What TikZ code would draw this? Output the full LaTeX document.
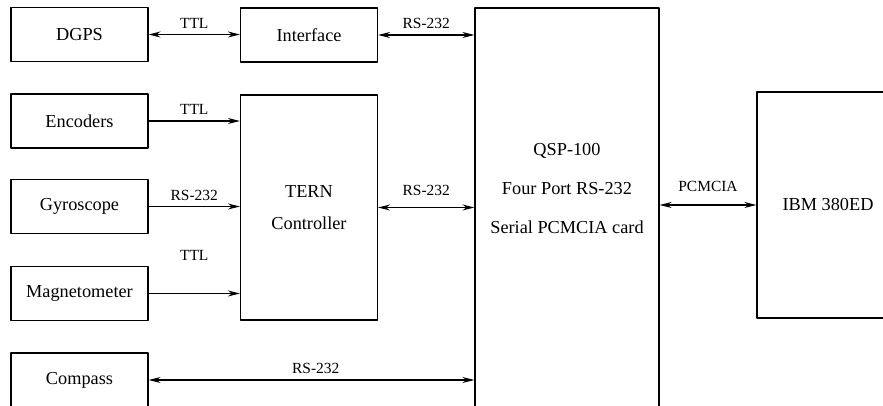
\documentclass[tikz,border=0pt]{standalone}
\usepackage{fontspec}
\setmainfont{Liberation Serif}
\usetikzlibrary{arrows.meta}
\def\pxl{0.025cm}
\tikzset{
  blk/.style={draw, line width=0.8pt, inner sep=0pt, align=center, minimum width=137*\pxl, minimum height=54*\pxl, font=\fontsize{13}{15}\selectfont},
  lnk/.style={line width=0.8pt, {Stealth[length=3mm,width=1.5mm]}-{Stealth[length=3mm,width=1.5mm]}},
  one/.style={line width=0.8pt, -{Stealth[length=3mm,width=1.5mm]}},
  tag/.style={font=\fontsize{11}{13}\selectfont, inner sep=2pt}
}
\begin{document}
\begin{tikzpicture}[x=\pxl, y=-\pxl, line join=round]
                \useasboundingbox (0,0) rectangle (883,406);
                \clip (0,0) rectangle (883,406);
                % sensors on the left
                \foreach \nm/\yy/\txt in {dgps/34.5/DGPS, enc/121/Encoders, gyro/206.5/Gyroscope, mag/293.5/Magnetometer, comp/380/Compass}
                    \node[blk] (\nm) at (79.5,\yy) {\txt};
                \node[blk] (iface) at (309,35) {Interface};
                \node[blk, minimum height=225*\pxl, font=\fontsize{13}{23}\selectfont] (tern) at (309,207.5) {TERN\\Controller};
                % card and laptop run off the page
                \node[blk, minimum width=184*\pxl, minimum height=412*\pxl] (qsp) at (567,214) {};
                \node[align=center, font=\fontsize{13}{28}\selectfont] (qsptxt) at (567,188.5) {QSP-100\\Four Port RS-232\\Serial PCMCIA card};
                \node[blk, minimum width=142*\pxl, minimum height=226*\pxl] (ibm) at (828,205) {IBM 380ED};
                \draw[lnk] (dgps.east) -- (dgps.east -| iface.west) node[tag, midway, above=2pt]{TTL};
                \draw[lnk] (iface.east) -- (iface.east -| qsp.west) node[tag, midway, above=2pt]{RS-232};
                \draw[one] (enc.east) -- (enc.east -| tern.west) node[tag, midway, above=2pt]{TTL};
                \draw[one] (gyro.east) -- (gyro.east -| tern.west) node[tag, midway, above=2pt]{RS-232};
                \draw[one] (mag.east) -- (mag.east -| tern.west) node[tag, midway, above=21pt]{TTL};
                \draw[lnk] (tern.east) -- (tern.east -| qsp.west) node[tag, midway, above=6pt]{RS-232};
                \draw[lnk] (comp.east) -- (comp.east -| qsp.west) node[tag, midway, above=2pt, xshift=3pt]{RS-232};
                \draw[lnk] (qsp.east |- ibm.west) -- (ibm.west) node[tag, midway, above=7pt]{PCMCIA};
\end{tikzpicture}
\end{document}
